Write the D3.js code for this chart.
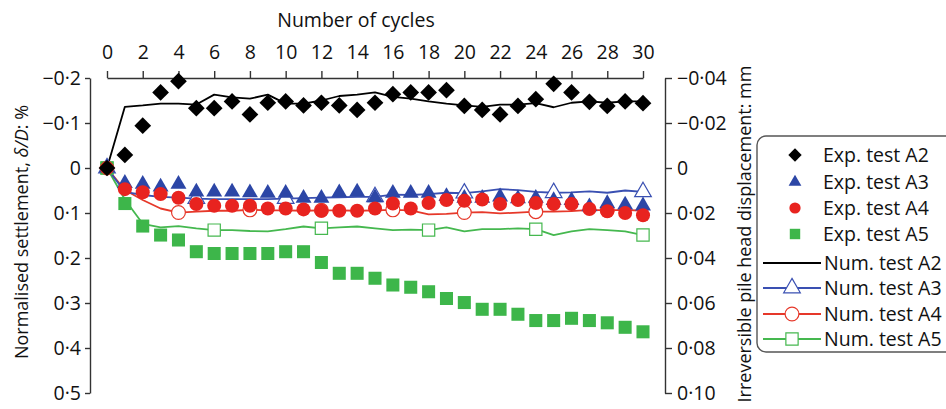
<!DOCTYPE html>
<html>
<head>
<meta charset="utf-8">
<script src="https://cdn.jsdelivr.net/npm/d3@7"></script>
<style>
  html, body { margin: 0; padding: 0; background: #ffffff; }
  svg { display: block; font-family: "Open Sans", "Noto Sans", sans-serif; }
</style>
</head>
<body>
<svg id="chart" width="946" height="409"></svg>
<script>
// Cycle numbers 0..30
const cycles = d3.range(0, 31);

// Experimental settlement (δ/D, %)
const expA2 = [0, -0.029, -0.094, -0.168, -0.193, -0.133, -0.133, -0.148, -0.119, -0.145, -0.148,
  -0.139, -0.145, -0.139, -0.129, -0.145, -0.164, -0.168, -0.168, -0.173, -0.138,
  -0.129, -0.119, -0.138, -0.153, -0.187, -0.168, -0.147, -0.138, -0.148, -0.144];
const expA3 = [0, 0.034, 0.036, 0.042, 0.036, 0.053, 0.053, 0.053, 0.055, 0.056, 0.056,
  0.067, 0.067, 0.055, 0.053, 0.066, 0.056, 0.056, 0.056, 0.063, 0.067,
  0.067, 0.064, 0.068, 0.067, 0.072, 0.072, 0.086, 0.079, 0.082, 0.084];
const expA4 = [0, 0.047, 0.054, 0.058, 0.066, 0.080, 0.084, 0.084, 0.084, 0.090, 0.090,
  0.092, 0.095, 0.095, 0.095, 0.090, 0.079, 0.090, 0.078, 0.071, 0.073,
  0.070, 0.080, 0.071, 0.078, 0.080, 0.080, 0.091, 0.096, 0.100, 0.105];
const expA5 = [0, 0.079, 0.129, 0.149, 0.160, 0.186, 0.190, 0.190, 0.190, 0.190, 0.186,
  0.186, 0.210, 0.234, 0.234, 0.245, 0.260, 0.265, 0.275, 0.290, 0.299,
  0.314, 0.314, 0.325, 0.339, 0.339, 0.334, 0.339, 0.344, 0.354, 0.364];

// Numerical settlement (δ/D, %)
const numA2 = [0, -0.136, -0.139, -0.143, -0.143, -0.141, -0.163, -0.157, -0.154, -0.163, -0.143,
  -0.143, -0.150, -0.160, -0.163, -0.168, -0.158, -0.154, -0.148, -0.143, -0.139,
  -0.136, -0.141, -0.141, -0.144, -0.135, -0.145, -0.148, -0.145, -0.148, -0.148];
const numA3 = [0, 0.053, 0.060, 0.064, 0.066, 0.068, 0.069, 0.069, 0.069, 0.069, 0.068,
  0.067, 0.066, 0.065, 0.064, 0.064, 0.059, 0.060, 0.058, 0.055, 0.056,
  0.052, 0.047, 0.049, 0.053, 0.055, 0.054, 0.052, 0.055, 0.050, 0.053];
const numA4 = [0, 0.049, 0.071, 0.090, 0.099, 0.097, 0.095, 0.095, 0.093, 0.094, 0.094,
  0.095, 0.094, 0.094, 0.095, 0.094, 0.093, 0.094, 0.103, 0.102, 0.099,
  0.098, 0.101, 0.099, 0.097, 0.097, 0.096, 0.093, 0.094, 0.093, 0.095];
const numA5 = [0, 0.070, 0.124, 0.132, 0.129, 0.134, 0.138, 0.138, 0.140, 0.141, 0.136,
  0.130, 0.134, 0.132, 0.130, 0.134, 0.138, 0.137, 0.138, 0.132, 0.141,
  0.136, 0.136, 0.134, 0.136, 0.149, 0.141, 0.136, 0.138, 0.141, 0.149];

// Cycles carrying an open marker on each numerical curve
const markA3 = [0, 5, 10, 15, 20, 25, 30];
const markA4 = [0, 4, 8, 12, 16, 20, 24, 28];
const markA5 = [0, 6, 12, 18, 24, 30];

// Tick values
const xTicks = d3.range(0, 31, 2);
const leftTicks = [-0.2, -0.1, 0, 0.1, 0.2, 0.3, 0.4, 0.5];
const rightTicks = [-0.04, -0.02, 0, 0.02, 0.04, 0.06, 0.08, 0.10];

const C = { black: "#000000", blue: "#2c46a6", red: "#e8231f", green: "#3db64a",
            blueLine: "#3a50b2", redLine: "#e6382a", greenLine: "#45b84f", axis: "#333333" };

const FS = "19.5px";
const svg = d3.select("#chart");
const x = d3.scaleLinear().domain([0, 30]).range([107, 643]);
const yL = d3.scaleLinear().domain([-0.2, 0.5]).range([78, 393]);
const yR = d3.scaleLinear().domain([-0.04, 0.10]).range([78, 393]);

// Decimal point drawn as a raised dot, negatives with a true minus
function fmt(v, digits) {
  if (Math.abs(v) < 1e-9) return "0";
  const s = Math.abs(v).toFixed(digits).replace(".", "\u00B7");
  return (v < 0 ? "\u2212" : "") + s;
}

function styleAxis(g) {
  g.selectAll("path.domain").attr("stroke", C.axis).attr("stroke-width", 1.4);
  g.selectAll(".tick line").attr("stroke", C.axis).attr("stroke-width", 1.4);
  g.selectAll(".tick text").attr("fill", "#111").style("font-size", FS)
    .style("font-family", "'Open Sans', 'Noto Sans', sans-serif");
}

// Top axis: number of cycles
svg.append("g").attr("transform", "translate(0,78)")
  .call(d3.axisTop(x).tickValues(xTicks).tickSize(7).tickSizeOuter(0).tickPadding(12)
    .tickFormat(d3.format("d")))
  .call(styleAxis);

// Left axis: normalised settlement
svg.append("g").attr("transform", "translate(90,0)")
  .call(d3.axisLeft(yL).tickValues(leftTicks).tickSize(5).tickSizeOuter(0).tickPadding(4)
    .tickFormat(d => fmt(d, 1)))
  .call(styleAxis);

// Right axis: pile head displacement
svg.append("g").attr("transform", "translate(665,0)")
  .call(d3.axisRight(yR).tickValues(rightTicks).tickSize(7).tickSizeOuter(0).tickPadding(5)
    .tickFormat(d => fmt(d, 2)))
  .call(styleAxis);

// Axis titles
svg.append("text").attr("x", 356).attr("y", 27).attr("text-anchor", "middle")
  .style("font-size", FS).attr("fill", "#111").text("Number of cycles");

const lt = svg.append("text").attr("transform", "translate(28,232) rotate(-90)")
  .attr("text-anchor", "middle").style("font-size", "18px").attr("fill", "#111");
lt.append("tspan").text("Normalised settlement, ");
lt.append("tspan").style("font-style", "italic").text("\u03B4/D");
lt.append("tspan").text(": %");

svg.append("text").attr("transform", "translate(751,234) rotate(-90)")
  .attr("text-anchor", "middle").style("font-size", "18px").attr("fill", "#111")
  .text("Irreversible pile head displacement: mm");

// Symbol generators
const sym = {
  diamond: d3.symbol().type(d3.symbolSquare).size(140),
  triangle: d3.symbol().type(d3.symbolTriangle).size(110),
  circle: d3.symbol().type(d3.symbolCircle).size(155),
  square: d3.symbol().type(d3.symbolSquare).size(170),
  openTri: d3.symbol().type(d3.symbolTriangle).size(120),
  openCirc: d3.symbol().type(d3.symbolCircle).size(150),
  openSq: d3.symbol().type(d3.symbolSquare).size(150)
};
const rot = { diamond: 45 };

const line = d3.line().x((d, i) => x(cycles[i])).y(d => yL(d));

// Numerical curves
const numSeries = [
  { v: numA5, c: C.greenLine, marks: markA5, s: "openSq" },
  { v: numA4, c: C.redLine, marks: markA4, s: "openCirc" },
  { v: numA3, c: C.blueLine, marks: markA3, s: "openTri" },
  { v: numA2, c: C.black, marks: [], s: null }
];
numSeries.forEach(ser => {
  svg.append("path").datum(ser.v).attr("d", line)
    .attr("fill", "none").attr("stroke", ser.c).attr("stroke-width", 1.8)
    .attr("stroke-linejoin", "round");
});
numSeries.forEach(ser => {
  if (!ser.s) return;
  svg.append("g").selectAll("path").data(ser.marks).join("path")
    .attr("transform", i => `translate(${x(i)},${yL(ser.v[i])})`)
    .attr("d", sym[ser.s]).attr("fill", "#ffffff").attr("stroke", ser.c).attr("stroke-width", 1.2);
});

// Experimental points
const expSeries = [
  { v: expA5, c: C.green, s: "square" },
  { v: expA3, c: C.blue, s: "triangle" },
  { v: expA4, c: C.red, s: "circle" },
  { v: expA2, c: C.black, s: "diamond" }
];
expSeries.forEach(ser => {
  svg.append("g").selectAll("path").data(ser.v).join("path")
    .attr("transform", (d, i) => `translate(${x(cycles[i])},${yL(d)}) rotate(${rot[ser.s] || 0})`)
    .attr("d", sym[ser.s]).attr("fill", ser.c);
});

// Legend
const lg = svg.append("g");
lg.append("rect").attr("x", 757).attr("y", 136).attr("width", 210).attr("height", 216)
  .attr("rx", 9).attr("fill", "#ffffff").attr("stroke", "#555").attr("stroke-width", 1.4);

const legendItems = [
  { label: "Exp. test A2", kind: "exp", s: "diamond", c: C.black },
  { label: "Exp. test A3", kind: "exp", s: "triangle", c: C.blue },
  { label: "Exp. test A4", kind: "exp", s: "circle", c: C.red },
  { label: "Exp. test A5", kind: "exp", s: "square", c: C.green },
  { label: "Num. test A2", kind: "num", s: null, c: C.black },
  { label: "Num. test A3", kind: "num", s: "openTri", c: C.blueLine },
  { label: "Num. test A4", kind: "num", s: "openCirc", c: C.redLine },
  { label: "Num. test A5", kind: "num", s: "openSq", c: C.greenLine }
];
const rowY = [155, 182, 208, 234, 263, 288, 314, 339];
legendItems.forEach((it, k) => {
  const yy = rowY[k];
  if (it.kind === "exp") {
    lg.append("path").attr("transform", `translate(795,${yy}) rotate(${rot[it.s] || 0}) scale(0.8)`)
      .attr("d", sym[it.s]).attr("fill", it.c);
  } else {
    lg.append("line").attr("x1", 763).attr("x2", 821).attr("y1", yy).attr("y2", yy)
      .attr("stroke", it.c).attr("stroke-width", 1.8);
    if (it.s) {
      lg.append("path").attr("transform", `translate(792,${yy})`)
        .attr("d", sym[it.s]).attr("fill", "#ffffff").attr("stroke", it.c).attr("stroke-width", 1.2);
    }
  }
  lg.append("text").attr("x", it.kind === "exp" ? 823 : 824).attr("y", yy + 7)
    .style("font-size", FS).attr("fill", "#111").text(it.label);
});
</script>
</body>
</html>
